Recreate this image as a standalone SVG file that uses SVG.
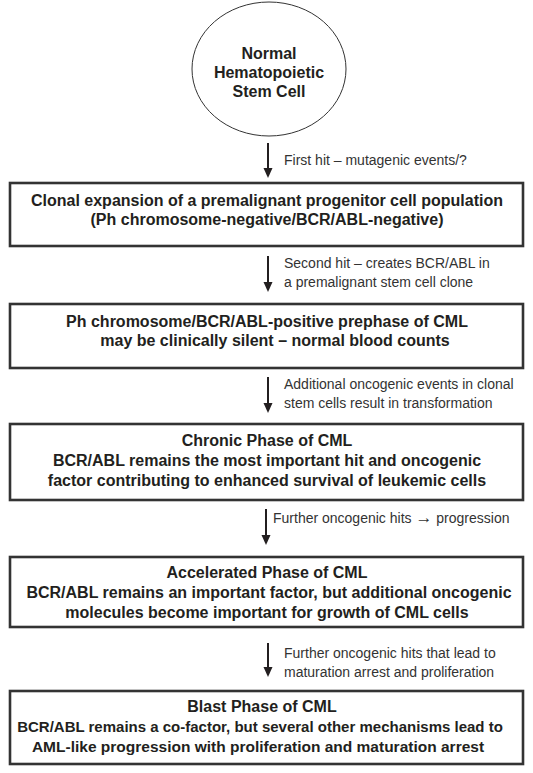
<svg xmlns="http://www.w3.org/2000/svg" width="533" height="773" viewBox="0 0 533 773">
<defs>
<style>
.bg{fill:#fff}
.box{fill:#fff;stroke:#333;stroke-width:2.6}
.ell{fill:#fff;stroke:#333;stroke-width:1}
.bt{font-family:"Liberation Sans",Arial,sans-serif;font-weight:bold;font-size:16px;fill:#231f20;text-anchor:middle}
.lb{font-family:"Liberation Sans",Arial,sans-serif;font-size:14px;fill:#333}
.ar{stroke:#231f20;stroke-width:2;fill:none}
.ah{fill:#231f20}
</style>
</defs>
<rect class="bg" x="0" y="0" width="533" height="773"/>
<g id="stem-cell">
<ellipse class="ell" cx="269" cy="69" rx="77" ry="67"/>
<text class="bt" x="269" y="59">Normal</text>
<text class="bt" x="269" y="78">Hematopoietic</text>
<text class="bt" x="269" y="97">Stem Cell</text>
</g>
<g id="connectors">
<line class="ar" x1="268" y1="143" x2="268" y2="170"/><path class="ah" d="M263.5,168 L272.5,168 L268,178 Z"/>
<line class="ar" x1="268" y1="256" x2="268" y2="284"/><path class="ah" d="M263.5,282 L272.5,282 L268,292 Z"/>
<line class="ar" x1="268" y1="377" x2="268" y2="405"/><path class="ah" d="M263.5,403 L272.5,403 L268,413 Z"/>
<line class="ar" x1="266" y1="509" x2="266" y2="537"/><path class="ah" d="M261.5,535 L270.5,535 L266,545 Z"/>
<line class="ar" x1="268" y1="643" x2="268" y2="669"/><path class="ah" d="M263.5,667 L272.5,667 L268,677 Z"/>
<text class="lb" x="284" y="165">First hit – mutagenic events/?</text>
<text class="lb" x="284" y="268">Second hit – creates BCR/ABL in</text>
<text class="lb" x="284" y="287">a premalignant stem cell clone</text>
<text class="lb" x="284" y="389">Additional oncogenic events in clonal</text>
<text class="lb" x="284" y="408">stem cells result in transformation</text>
<text class="lb" x="273" y="523">Further oncogenic hits <tspan style="font-size:17px">→</tspan> progression</text>
<text class="lb" x="284" y="658">Further oncogenic hits that lead to</text>
<text class="lb" x="284" y="677">maturation arrest and proliferation</text>
</g>
<g id="clonal-expansion">
<rect class="box" x="10" y="183" width="513" height="63"/>
<text class="bt" x="267" y="206">Clonal expansion of a premalignant progenitor cell population</text>
<text class="bt" x="267" y="225">(Ph chromosome-negative/BCR/ABL-negative)</text>
</g>
<g id="prephase">
<rect class="box" x="10" y="304" width="513" height="64"/>
<text class="bt" x="267" y="327">Ph chromosome/BCR/ABL-positive prephase of CML</text>
<text class="bt" x="275" y="346">may be clinically silent – normal blood counts</text>
</g>
<g id="chronic-phase">
<rect class="box" x="10" y="424" width="513" height="76"/>
<text class="bt" x="267" y="446">Chronic Phase of CML</text>
<text class="bt" x="267" y="466">BCR/ABL remains the most important hit and oncogenic</text>
<text class="bt" x="267" y="486">factor contributing to enhanced survival of leukemic cells</text>
</g>
<g id="accelerated-phase">
<rect class="box" x="10" y="557" width="513" height="70"/>
<text class="bt" x="267" y="578">Accelerated Phase of CML</text>
<text class="bt" x="269" y="598">BCR/ABL remains an important factor, but additional oncogenic</text>
<text class="bt" x="267" y="618">molecules become important for growth of CML cells</text>
</g>
<g id="blast-phase">
<rect class="box" x="10" y="691" width="513" height="73"/>
<text class="bt" x="262" y="712">Blast Phase of CML</text>
<text class="bt" x="260" y="732" style="font-size:15px">BCR/ABL remains a co-factor, but several other mechanisms lead to</text>
<text class="bt" x="258" y="752" style="font-size:15.5px">AML-like progression with proliferation and maturation arrest</text>
</g>
</svg>
